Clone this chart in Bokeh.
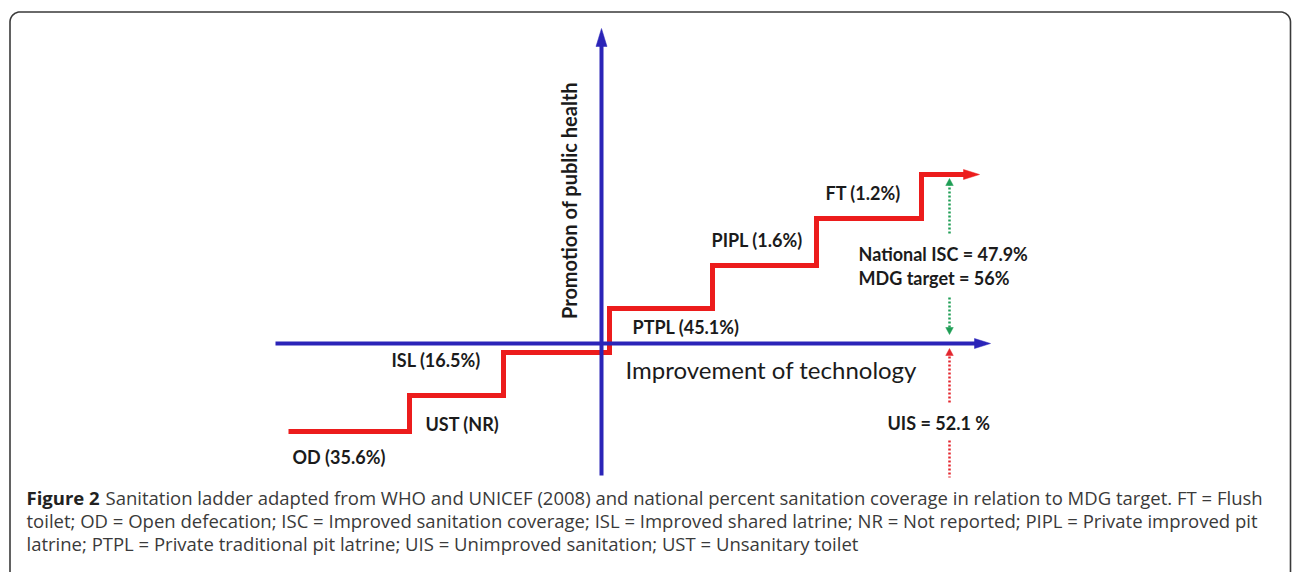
import numpy as np
from bokeh.plotting import figure
from bokeh.models import Range1d, ColumnDataSource, Label
from bokeh.core.properties import value
from bokeh.embed import file_html
from bokeh.resources import INLINE

# ---------------- data ----------------
rung_codes = ["OD", "UST", "ISL", "PTPL", "PIPL", "FT"]
rung_share = ["35.6%", "NR", "16.5%", "45.1%", "1.6%", "1.2%"]
# ladder in schematic units (technology on x, public health on y)
step_x = [-31.3, -19.2, -9.8, 0.8, 11.1, 21.5, 32.0]
step_y = [-8.8, -5.2, -0.9, 3.5, 7.8, 12.5, 16.9]
ladder_end = 37.8
national_isc = 47.9
mdg_target = 56
uis_share = 52.1
x_axis_title = "Improvement of technology"
y_axis_title = "Promotion of public health"
caption_bold = "Figure 2"
caption_lines = [
    "Sanitation ladder adapted from WHO and UNICEF (2008) and national percent sanitation coverage in relation to MDG target. FT = Flush",
    "toilet; OD = Open defecation; ISC = Improved sanitation coverage; ISL = Improved shared latrine; NR = Not reported; PIPL = Private improved pit",
    "latrine; PTPL = Private traditional pit latrine; UIS = Unimproved sanitation; UST = Unsanitary toilet",
]

# ---------------- layout / style ----------------
RED = "#ec1c1c"
BLUE = "#2b24b8"
GREEN = "#1f9e55"
DRED = "#e3262e"
INK = "#1b1b1b"
FONT = "Lato"

label_x = [-30.9, -17.6, -21.0, 3.1, 11.0, 22.4]
label_y = [-11.3, -8.0, -1.6, 1.7, 10.4, 15.1]

p = figure(width=1292, height=572, x_range=Range1d(-60.1, 69.1), y_range=Range1d(-22.9, 34.3),
           output_backend="svg", toolbar_location=None, min_border=0,
           x_axis_location=None, y_axis_location=None)
p.grid.visible = False
p.outline_line_color = None
p.background_fill_color = "white"
p.border_fill_color = "white"

# frame box with rounded top corners
left, right, top, bottom, r = -59.15, 68.9, 33.15, -24.0, 1.0
t1 = np.linspace(np.pi, np.pi / 2, 14)
t2 = np.linspace(np.pi / 2, 0, 14)
bx = np.concatenate([[left], left + r + r * np.cos(t1), right - r + r * np.cos(t2), [right]])
by = np.concatenate([[bottom], top - r + r * np.sin(t1), top - r + r * np.sin(t2), [bottom]])
p.line(bx, by, line_color="#3a3a3a", line_width=1.6)


def head(xt, yt, dx, dy, L, W, color):
    # triangle head with tip at (xt, yt) pointing in (dx, dy)
    bxh, byh = xt - dx * L, yt - dy * L
    px_, py_ = -dy * W / 2, dx * W / 2
    p.patch([xt, bxh + px_, bxh - px_], [yt, byh + py_, byh - py_],
            fill_color=color, line_color=color, line_width=0.5)


# red ladder
lx = step_x + [ladder_end - 1.2]
ly = step_y + [step_y[-1]]
p.step(lx, ly, mode="after", line_color=RED, line_width=5, line_join="miter")
head(ladder_end, step_y[-1], 1, 0, 1.6, 1.0, RED)

# blue axes
p.line([-32.6, 37.5], [0, 0], line_color=BLUE, line_width=4)
head(38.9, 0, 1, 0, 1.6, 1.0, BLUE)
p.line([0, 0], [-13.2, 30.0], line_color=BLUE, line_width=4)
head(0, 31.5, 0, 1, 1.8, 1.1, BLUE)

# dotted annotation arrows
xa = 34.8
p.line([xa, xa], [11.0, 15.9], line_color=GREEN, line_width=2.5, line_dash="2 2")
head(xa, 16.5, 0, 1, 0.7, 0.75, GREEN)
p.line([xa, xa], [4.6, 1.5], line_color=GREEN, line_width=2.5, line_dash="2 2")
head(xa, 0.9, 0, -1, 0.7, 0.75, GREEN)
p.line([xa, xa], [-5.9, -1.1], line_color=DRED, line_width=2.5, line_dash="2 2")
head(xa, -0.5, 0, 1, 0.7, 0.75, DRED)
p.line([xa, xa], [-9.7, -13.4], line_color=DRED, line_width=2.5, line_dash="2 2")

# rung labels
src = ColumnDataSource(dict(x=label_x, y=label_y,
                            t=[f"{c} ({s})" for c, s in zip(rung_codes, rung_share)]))
p.text("x", "y", text="t", source=src, text_font=value(FONT), text_font_style="bold",
       text_font_size="18px", text_color=INK, text_align="left", text_baseline="middle")

for txt, x, y in [(f"National  ISC = {national_isc}%", 25.7, 9.0),
                  (f"MDG  target = {mdg_target}%", 25.7, 6.6),
                  (f"UIS = {uis_share} %", 28.6, -7.9)]:
    p.add_layout(Label(x=x, y=y, text=txt, text_font=FONT, text_font_style="bold",
                       text_font_size="18px", text_color=INK, text_align="left",
                       text_baseline="middle"))

p.add_layout(Label(x=2.4, y=-2.6, text=x_axis_title, text_font=FONT, text_font_size="24px",
                   text_color=INK, text_align="left", text_baseline="middle"))
p.add_layout(Label(x=-3.3, y=14.3, text=y_axis_title, text_font=FONT, text_font_style="bold",
                   text_font_size="20px", text_color=INK, text_align="center",
                   text_baseline="middle", angle=np.pi / 2))

# caption
CAP = "Open Sans"
CS = "18.5px"
p.add_layout(Label(x=-57.5, y=-15.4, text=caption_bold, text_font=CAP, text_font_style="bold",
                   text_font_size=CS, text_color="#222222", text_baseline="alphabetic"))
p.add_layout(Label(x=-49.6, y=-15.4, text=caption_lines[0], text_font=CAP,
                   text_font_size=CS, text_color="#3a3a3a", text_baseline="alphabetic"))
p.add_layout(Label(x=-57.5, y=-17.7, text=caption_lines[1], text_font=CAP,
                   text_font_size=CS, text_color="#3a3a3a", text_baseline="alphabetic"))
p.add_layout(Label(x=-57.5, y=-20.0, text=caption_lines[2], text_font=CAP,
                   text_font_size=CS, text_color="#3a3a3a", text_baseline="alphabetic"))

open("out.html", "w").write(file_html(p, INLINE))
